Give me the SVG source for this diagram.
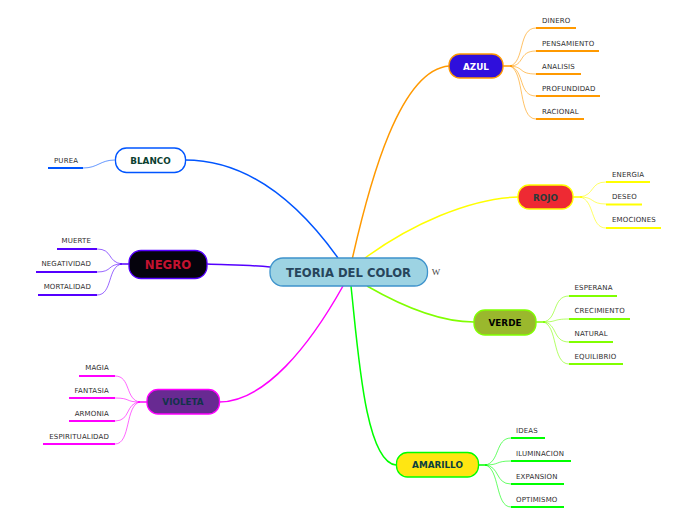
<svg xmlns="http://www.w3.org/2000/svg" width="696" height="520" viewBox="0 0 696 520">
<style>
text{font-family:"DejaVu Sans",Verdana,sans-serif}
.l{font-size:7px;fill:#2e2e2e;letter-spacing:.15px}
.e{text-anchor:end}
.n{font-size:8.800px;font-weight:bold;text-anchor:middle}
rect{stroke-width:1.300}
.m{fill:none;stroke-width:1.500}
.b{fill:none;stroke-width:1;stroke-opacity:.6}
.u{fill:none;stroke-width:2}
.o{stroke:#ff9900}.y{stroke:#ffff00}.g{stroke:#80ff00}.a{stroke:#00ff00}.w{stroke:#0055ff}.k{stroke:#5500ff}.v{stroke:#ff00ff}
</style>
<rect width="696" height="520" fill="#fff" stroke="none"/>
<g id="connectors">
<path class="m o" d="M352 260C370 180 400 70 449 66"/>
<path class="m y" d="M365 258C410 225 470 198 518 197"/>
<path class="m g" d="M367 286C400 305 440 322 474 322"/>
<path class="m a" d="M351 286C358 350 365 462 396 465"/>
<path class="m w" d="M338 258C300 205 250 160 185 160"/>
<path class="m k" d="M270 267C250 265 230 265 207 264"/>
<path class="m v" d="M343 286C310 345 265 402 219 402"/>
<path class="m o" d="M503 66H512"/><path class="m y" d="M573 197H582"/><path class="m g" d="M536 322H545"/><path class="m a" d="M478 465H487"/><path class="m k" d="M129 264H120"/><path class="m v" d="M147 402H138"/>
<g class="b o"><path d="M510 66C525 62 518 28 536 28"/><path d="M510 66C525 66 518 51 536 51"/><path d="M510 66C525 67 518 74 536 74"/><path d="M510 66C525 70 518 96 536 96"/><path d="M510 66C525 72 518 119 536 119"/></g>
<g class="b y"><path d="M580 197C595 195 590 182 606 182"/><path d="M580 197C595 197 590 204 606 204"/><path d="M580 197C595 200 590 228 606 228"/></g>
<g class="b g"><path d="M543 322C558 320 552 296 569 296"/><path d="M543 322C558 322 552 319 569 319"/><path d="M543 322C558 323 552 342 569 342"/><path d="M543 322C558 325 552 364 569 364"/></g>
<g class="b a"><path d="M485 465C500 463 495 438 511 438"/><path d="M485 465C500 465 495 461 511 461"/><path d="M485 465C500 466 495 484 511 484"/><path d="M485 465C500 468 495 507 511 507"/></g>
<path class="b w" d="M115 160C100 160 98 168 83 168"/>
<g class="b k"><path d="M122 264C107 262 113 249 97 249"/><path d="M122 264C107 264 113 272 97 272"/><path d="M122 264C107 266 113 295 97 295"/></g>
<g class="b v"><path d="M140 402C125 400 131 376 115 376"/><path d="M140 402C125 402 131 398 115 398"/><path d="M140 402C125 403 131 421 115 421"/><path d="M140 402C125 405 131 444 115 444"/></g>
<g class="u o"><path d="M536 28H576"/><path d="M536 51H599"/><path d="M536 74H581"/><path d="M536 96H600"/><path d="M536 119H584"/></g>
<g class="u y"><path d="M606 182H650"/><path d="M606 204.500H642"/><path d="M606 228H661"/></g>
<g class="u g"><path d="M569 296H617"/><path d="M569 319H630"/><path d="M569 342H613"/><path d="M569 364H623"/></g>
<g class="u a"><path d="M511 438H545"/><path d="M511 461H571"/><path d="M511 484H564"/><path d="M511 507H564"/></g>
<path class="u w" d="M48 168H83"/>
<g class="u k"><path d="M57 249H97"/><path d="M36 272H97"/><path d="M38 295H97"/></g>
<g class="u v"><path d="M79 376H115"/><path d="M69 398H115"/><path d="M69 421H115"/><path d="M43 444H115"/></g>
</g>
<g id="center"><rect x="270" y="258" width="157.500" height="28" rx="13" fill="#9dd3e3" stroke="#3e93cc"/><text x="348.500" y="276.500" font-size="11.600" font-weight="bold" text-anchor="middle" fill="#27455c">TEORIA DEL COLOR</text><text x="436" y="275" font-size="9" text-anchor="middle" fill="#444" style="font-family:'Liberation Serif',serif">W</text></g>
<g id="azul"><rect x="449" y="54" width="54" height="24" rx="11" fill="#2f0fdc" stroke="#ff9900"/><text class="n" x="476" y="70" fill="#fff">AZUL</text></g>
<g id="rojo"><rect x="518" y="185" width="55" height="24" rx="11" fill="#ee2a33" stroke="#ffff00"/><text class="n" x="545.500" y="201" fill="#2b3a3a">ROJO</text></g>
<g id="verde"><rect x="474" y="310" width="62" height="25" rx="11" fill="#9ab82d" stroke="#80ff00"/><text class="n" x="505" y="326" fill="#000">VERDE</text></g>
<g id="amarillo"><rect x="396.500" y="452.500" width="82" height="24.500" rx="11" fill="#ffe612" stroke="#00ff00"/><text class="n" x="437.500" y="468" fill="#0b4040">AMARILLO</text></g>
<g id="blanco"><rect x="115.500" y="148" width="70" height="24.500" rx="11" fill="#fff" stroke="#0055ff"/><text class="n" x="150.500" y="164" fill="#0b4030">BLANCO</text></g>
<g id="negro"><rect x="129" y="250.500" width="78" height="28" rx="12" fill="#05030c" stroke="#5500ff"/><text x="168" y="269" font-size="11.700" font-weight="bold" text-anchor="middle" fill="#c4122f">NEGRO</text></g>
<g id="violeta"><rect x="147" y="389.500" width="72.500" height="24.500" rx="11" fill="#682a92" stroke="#ff00ff"/><text class="n" x="183" y="405" fill="#12334a">VIOLETA</text></g>
<g id="azul-leaves"><text class="l" x="542" y="23">DINERO</text><text class="l" x="542" y="46">PENSAMIENTO</text><text class="l" x="542" y="68.500">ANALISIS</text><text class="l" x="542" y="91">PROFUNDIDAD</text><text class="l" x="542" y="114">RACIONAL</text></g>
<g id="rojo-leaves"><text class="l" x="612" y="177">ENERGIA</text><text class="l" x="612" y="199">DESEO</text><text class="l" x="612" y="222">EMOCIONES</text></g>
<g id="verde-leaves"><text class="l" x="574.500" y="290">ESPERANA</text><text class="l" x="574.500" y="313">CRECIMIENTO</text><text class="l" x="574.500" y="336">NATURAL</text><text class="l" x="574.500" y="359">EQUILIBRIO</text></g>
<g id="amarillo-leaves"><text class="l" x="516" y="433">IDEAS</text><text class="l" x="516" y="455.500">ILUMINACION</text><text class="l" x="516" y="478.500">EXPANSION</text><text class="l" x="516" y="501.500">OPTIMISMO</text></g>
<g id="blanco-leaves"><text class="l" x="54" y="163">PUREA</text></g>
<g id="negro-leaves"><text class="l e" x="91" y="243">MUERTE</text><text class="l e" x="91" y="266">NEGATIVIDAD</text><text class="l e" x="91" y="289">MORTALIDAD</text></g>
<g id="violeta-leaves"><text class="l e" x="109" y="370">MAGIA</text><text class="l e" x="109" y="393">FANTASIA</text><text class="l e" x="109" y="416">ARMONIA</text><text class="l e" x="109" y="438.500">ESPIRITUALIDAD</text></g>
</svg>
